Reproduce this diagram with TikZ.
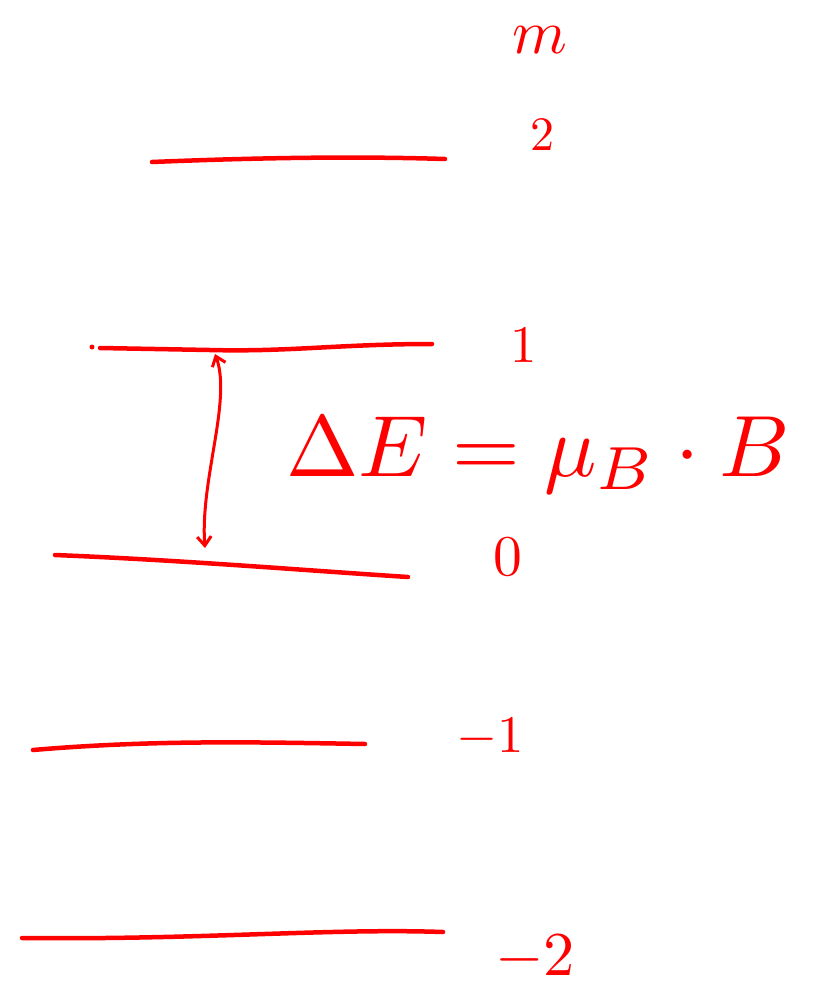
\documentclass[tikz,border=0pt]{standalone}
\usetikzlibrary{arrows.meta}
\begin{document}
\begin{tikzpicture}[x=1pt,y=-1pt,
  level/.style={red, line width=4.5pt, line cap=round},
  lab/.style={red, scale=4.8, inner sep=0pt},
  gap/.style={red, line width=3pt, {Straight Barb[length=9pt,width=14pt]}-{Straight Barb[length=9pt,width=14pt]}}]
\useasboundingbox (0,0) rectangle (817,1007);
% energy levels
\draw[level] (152,162) .. controls (250,158) and (350,156) .. (445,159);
\fill[red] (92,347) circle (2.5pt);
\draw[level] (100,348) -- (210,350) .. controls (290,352) and (340,344) .. (432,344);
\draw[level] (55,555) .. controls (180,560) and (300,570) .. (408,577);
\draw[level] (33,750) .. controls (150,740) and (250,742) .. (365,744);
\draw[level] (22,938) .. controls (200,940) and (330,928) .. (443,932);
% labels
\node[lab, scale=1.3] (lm) at (540,40) {$m$};
\node[lab] (l2) at (542,135) {$2$};
\node[lab, scale=1.1] (l1) at (524,345) {$1$};
\node[lab, scale=1.2] (l0) at (508,557) {$0$};
\node[lab, scale=1.1] (lm1) at (490,738) {$-1$};
\node[lab, scale=1.3] (lm2) at (535,958) {$-2$};
% splitting arrow
\coordinate (a1) at (215,354);
\coordinate (a0) at (205,548);
\draw[gap] (a1) .. controls (232,400) and (200,480) .. (a0);
% formula
\node[red, inner sep=0pt, scale=8.7] (dE) at (538,455) {$\Delta E = \mu_B \cdot B$};
\end{tikzpicture}
\end{document}
